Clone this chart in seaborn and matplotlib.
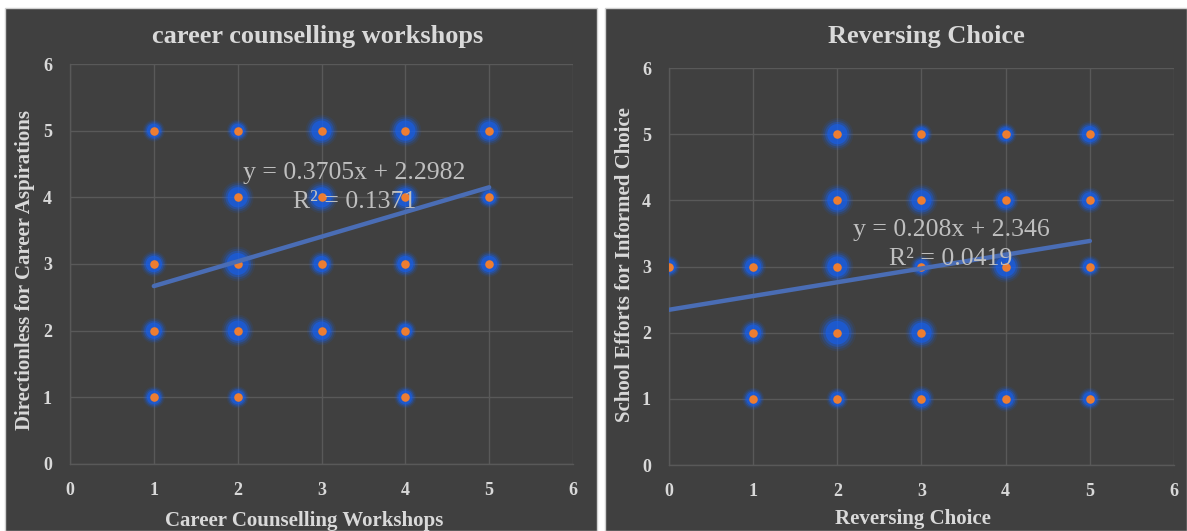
import numpy as np
import pandas as pd
import matplotlib
matplotlib.use("Agg")
import matplotlib.pyplot as plt
from matplotlib.patches import Rectangle
import seaborn as sns

# left panel: career counselling workshops vs directionless
cc_x = [1, 1, 1, 1, 2, 2, 2, 2, 2, 3, 3, 3, 3, 4, 4, 4, 4, 4, 5, 5, 5]
cc_y = [5, 3, 2, 1, 5, 4, 3, 2, 1, 5, 4, 3, 2, 5, 4, 3, 2, 1, 5, 4, 3]
cc_n = [1, 2, 2, 1, 1, 4, 5, 4, 1, 4, 4, 2, 3, 4, 3, 2, 1, 1, 3, 1, 2]
cc_fit = (0.3705, 2.2982)
cc_r2 = 0.1371

# right panel: reversing choice vs school efforts
rc_x = [0, 1, 1, 1, 2, 2, 2, 2, 2, 3, 3, 3, 3, 3, 4, 4, 4, 4, 5, 5, 5, 5]
rc_y = [3, 3, 2, 1, 5, 4, 3, 2, 1, 5, 4, 3, 2, 1, 5, 4, 3, 1, 5, 4, 3, 1]
rc_n = [1, 2, 2, 1, 4, 4, 4, 6, 1, 1, 4, 1, 4, 2, 1, 2, 4, 2, 2, 2, 1, 1]
rc_fit = (0.208, 2.346)
rc_r2 = 0.0419

bg = '#404040'
grid = '#595959'
txt = '#d9d9d9'
orange = '#ED7D31'
glow = '#1560f0'
line_c = '#4a6db5'

sns.set_style("dark")
plt.rcParams['font.family'] = ['Liberation Serif', 'DejaVu Serif']

fig = plt.figure(figsize=(11.87, 5.31), dpi=100)
fig.patch.set_facecolor('white')
W, H = 1187, 531

# dark panels
fig.patches.append(Rectangle((5 / W, 0), 592 / W, 523 / H, transform=fig.transFigure,
                             facecolor=bg, edgecolor='#d0d0d0', linewidth=1, zorder=-5))
fig.patches.append(Rectangle((605 / W, 0), 582 / W, 523 / H, transform=fig.transFigure,
                             facecolor=bg, edgecolor='#d0d0d0', linewidth=1, zorder=-5))


def panel(rect, xs, ys, ns, fit, r2, title, xlabel, ylabel, eq_pos, xmin, tpos, xlpos, ylpos):
    ax = fig.add_axes(rect)
    ax.set_facecolor(bg)
    df = pd.DataFrame({'x': xs, 'y': ys, 'n': ns})
    # glow layers (bigger halo = more overlapping answers)
    for k, a in [(1.0, 0.10), (0.78, 0.18), (0.58, 0.35), (0.4, 0.6)]:
        sizes = (k * 250, k * 720)
        sns.scatterplot(data=df, x='x', y='y', size='n', sizes=sizes, size_norm=(1, 6),
                        color=glow, alpha=a, linewidth=0, legend=False, ax=ax, zorder=3)
    sns.scatterplot(data=df, x='x', y='y', s=38, color=orange, linewidth=0,
                    legend=False, ax=ax, zorder=5)
    slope, icpt = fit
    lx = np.array([xmin, max(xs)])
    ax.plot(lx, slope * lx + icpt, color=line_c, linewidth=3.2, solid_capstyle='round', zorder=6)
    ax.text(eq_pos[0], eq_pos[1], f'y = {slope}x + {icpt}\nR² = {r2}', ha='center', va='center',
            fontsize=18.5, color='#bfbfbf', linespacing=1.4, zorder=7)
    ax.set_xlim(0, 6)
    ax.set_ylim(0, 6)
    ax.set_xticks(range(7))
    ax.set_yticks(range(7))
    ax.grid(True, color=grid, linewidth=1)
    for s in ['top', 'right']:
        ax.spines[s].set_visible(False)
    for s in ['left', 'bottom']:
        ax.spines[s].set_visible(True)
        ax.spines[s].set_color(grid)
        ax.spines[s].set_linewidth(1)
    ax.tick_params(length=0, colors=txt, labelsize=13, pad=13)
    for lab in ax.get_xticklabels() + ax.get_yticklabels():
        lab.set_fontweight('bold')
    ax.set_xlabel('')
    ax.set_ylabel('')
    fig.text(tpos[0] / W, 1 - tpos[1] / H, title, color=txt, fontsize=19, fontweight='bold',
             ha='center', va='center')
    fig.text(xlpos[0] / W, 1 - xlpos[1] / H, xlabel, color=txt, fontsize=15, fontweight='bold',
             ha='center', va='center')
    fig.text(ylpos[0] / W, 1 - ylpos[1] / H, ylabel, color=txt, fontsize=15, fontweight='bold',
             rotation=90, ha='center', va='center')
    return ax


panel([70 / W, (H - 464) / H, 503 / W, 400 / H], cc_x, cc_y, cc_n, cc_fit, cc_r2,
      'career counselling workshops', 'Career Counselling Workshops',
      'Directionless for Career Aspirations', (3.39, 4.15), 1, (318, 36), (304, 521), (25, 270))
panel([669 / W, (H - 465) / H, 505 / W, 397 / H], rc_x, rc_y, rc_n, rc_fit, rc_r2,
      'Reversing Choice', 'Reversing Choice',
      'School Efforts for Informed Choice', (3.35, 3.33), 0, (926, 36), (913, 519), (625, 265))

fig.savefig('out.png', dpi=100, facecolor=fig.get_facecolor())
